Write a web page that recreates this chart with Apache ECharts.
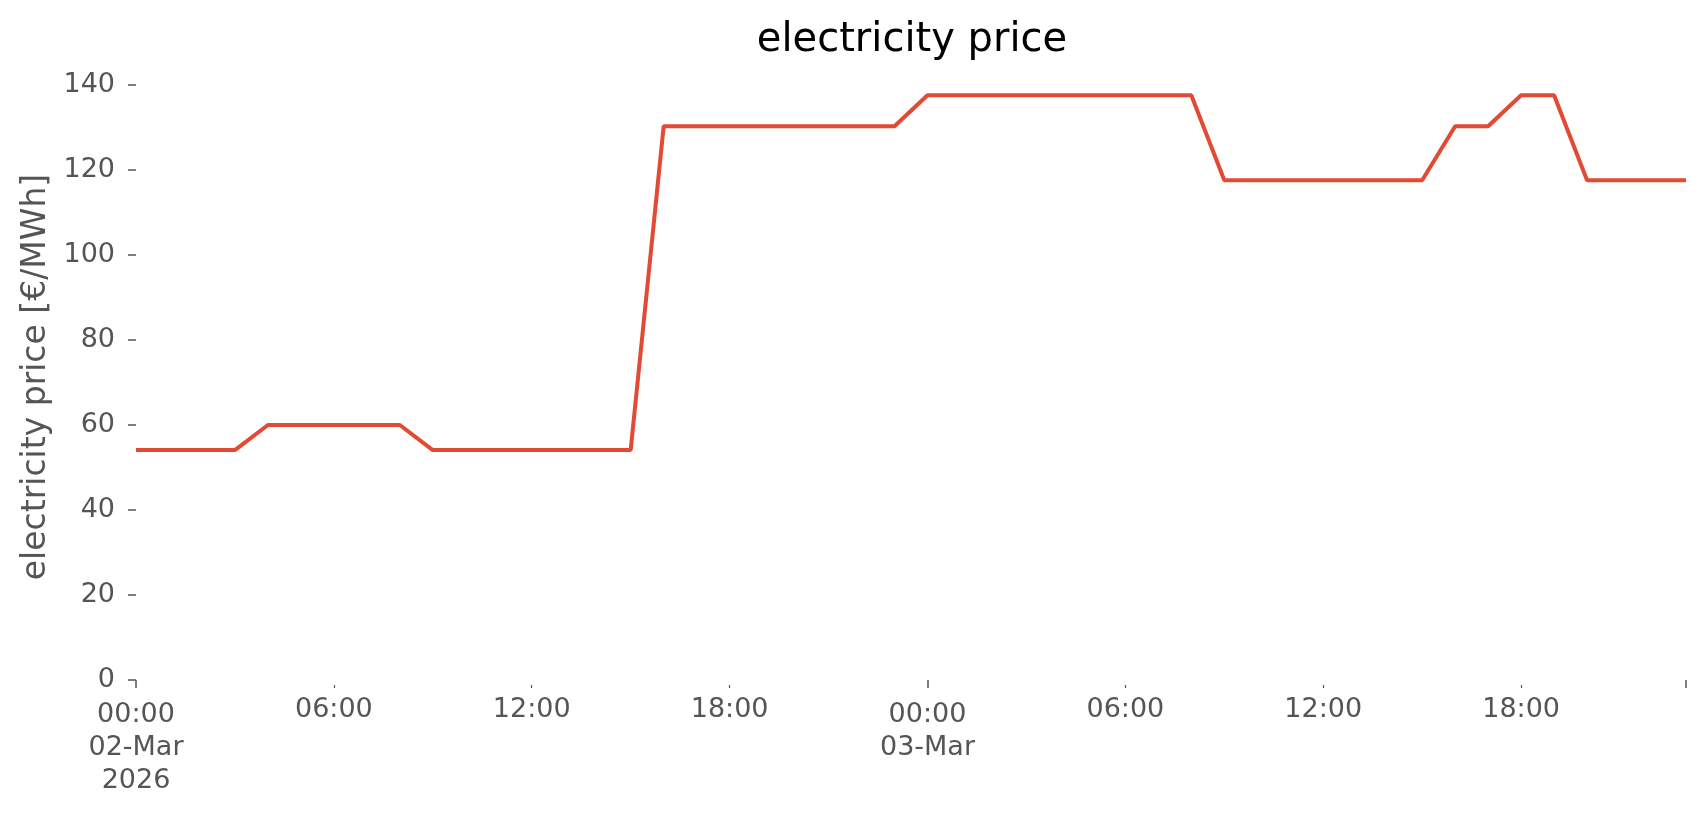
<!DOCTYPE html>
<html>
<head>
<meta charset="utf-8">
<script src="https://cdn.jsdelivr.net/npm/echarts@6/dist/echarts.min.js"></script>
<style>
html,body{margin:0;padding:0;background:#fff;}
#chart{width:1706px;height:815px;}
</style>
</head>
<body>
<div id="chart"></div>
<script>
const times = [
  "2026-03-02 00:00","2026-03-02 01:00","2026-03-02 02:00","2026-03-02 03:00",
  "2026-03-02 04:00","2026-03-02 05:00","2026-03-02 06:00","2026-03-02 07:00",
  "2026-03-02 08:00","2026-03-02 09:00","2026-03-02 10:00","2026-03-02 11:00",
  "2026-03-02 12:00","2026-03-02 13:00","2026-03-02 14:00","2026-03-02 15:00",
  "2026-03-02 16:00","2026-03-02 17:00","2026-03-02 18:00","2026-03-02 19:00",
  "2026-03-02 20:00","2026-03-02 21:00","2026-03-02 22:00","2026-03-02 23:00",
  "2026-03-03 00:00","2026-03-03 01:00","2026-03-03 02:00","2026-03-03 03:00",
  "2026-03-03 04:00","2026-03-03 05:00","2026-03-03 06:00","2026-03-03 07:00",
  "2026-03-03 08:00","2026-03-03 09:00","2026-03-03 10:00","2026-03-03 11:00",
  "2026-03-03 12:00","2026-03-03 13:00","2026-03-03 14:00","2026-03-03 15:00",
  "2026-03-03 16:00","2026-03-03 17:00","2026-03-03 18:00","2026-03-03 19:00",
  "2026-03-03 20:00","2026-03-03 21:00","2026-03-03 22:00","2026-03-03 23:00"
];
const prices = [
  54.1, 54.1, 54.1, 54.1,
  60.0, 60.0, 60.0, 60.0, 60.0,
  54.1, 54.1, 54.1, 54.1, 54.1, 54.1, 54.1,
  130.3, 130.3, 130.3, 130.3, 130.3, 130.3, 130.3, 130.3,
  137.6, 137.6, 137.6, 137.6, 137.6, 137.6, 137.6, 137.6, 137.6,
  117.6, 117.6, 117.6, 117.6, 117.6, 117.6, 117.6,
  130.3, 130.3,
  137.6, 137.6,
  117.6, 117.6, 117.6, 117.6
];
const majorTickIdx = [0, 24, 47];
const majorTickLabels = ["00:00\n02-Mar\n2026", "00:00\n03-Mar", ""];
const minorTickIdx = [6, 12, 18, 30, 36, 42];
const minorTickLabels = ["06:00", "12:00", "18:00", "06:00", "12:00", "18:00"];
const yTicks = [0, 20, 40, 60, 80, 100, 120, 140];

const FONT = "DejaVu Sans";
const GREY = "#555555";

const chart = echarts.init(document.getElementById('chart'), null, {renderer: 'canvas'});
const option = {
  backgroundColor: '#ffffff',
  animation: false,
  title: {
    text: 'electricity price',
    left: 907,
    top: 16,
    textAlign: 'center',
    textStyle: {fontFamily: FONT, fontSize: 40, fontWeight: 'normal', color: '#000000'}
  },
  grid: {left: 136, right: 20, top: 85, bottom: 135, containLabel: false, outerBoundsMode: 'none'},
  xAxis: [
    {
      type: 'category',
      data: times,
      boundaryGap: false,
      position: 'bottom',
      offset: 5,
      axisLine: {show: false},
      splitLine: {show: false},
      axisTick: {
        show: true, length: 8,
        interval: (i) => majorTickIdx.includes(i),
        lineStyle: {color: GREY, width: 1.5}
      },
      axisLabel: {
        interval: (i) => majorTickIdx.includes(i),
        formatter: (v, i) => { const k = majorTickIdx.indexOf(i); return k >= 0 ? majorTickLabels[k] : ''; },
        margin: 13,
        fontFamily: FONT, fontSize: 27, color: GREY, lineHeight: 33, align: 'center'
      }
    },
    {
      type: 'category',
      data: times,
      boundaryGap: false,
      position: 'bottom',
      offset: 5,
      axisLine: {show: false},
      splitLine: {show: false},
      axisTick: {
        show: true, length: 3,
        interval: (i) => minorTickIdx.includes(i),
        lineStyle: {color: GREY, width: 1.2}
      },
      axisLabel: {
        interval: (i) => minorTickIdx.includes(i),
        formatter: (v, i) => { const k = minorTickIdx.indexOf(i); return k >= 0 ? minorTickLabels[k] : ''; },
        margin: 8,
        fontFamily: FONT, fontSize: 27, color: GREY, lineHeight: 33, align: 'center'
      }
    }
  ],
  yAxis: {
    type: 'value',
    min: yTicks[0],
    max: yTicks[yTicks.length - 1],
    interval: 20,
    name: 'electricity price [€/MWh]',
    nameLocation: 'middle',
    nameRotate: 90,
    nameGap: 83,
    nameTextStyle: {fontFamily: FONT, fontSize: 33, color: GREY, padding: [0, 0, 0, 11]},
    axisLine: {show: false},
    splitLine: {show: false},
    axisTick: {show: true, length: 8, lineStyle: {color: GREY, width: 1.5}},
    axisLabel: {margin: 21, fontFamily: FONT, fontSize: 27, color: GREY}
  },
  series: [{
    type: 'line',
    xAxisIndex: 0,
    data: prices,
    showSymbol: false,
    symbol: 'none',
    lineStyle: {color: '#E24A33', width: 4},
    itemStyle: {color: '#E24A33'}
  }]
};
chart.setOption(option);
</script>
</body>
</html>
